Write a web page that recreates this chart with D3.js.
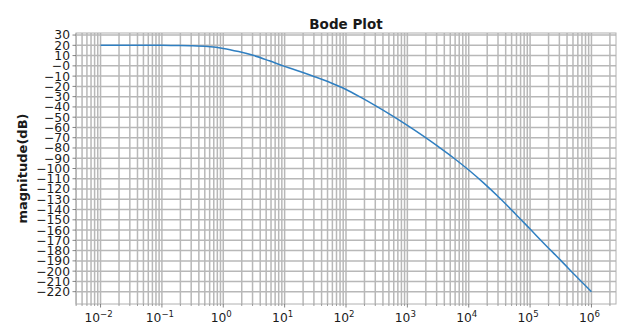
<!DOCTYPE html>
<html>
<head>
<meta charset="utf-8">
<script src="https://cdn.jsdelivr.net/npm/d3@7"></script>
<style>
  body { margin: 0; background: #fff; }
  text { font-family: "DejaVu Sans", sans-serif; }
</style>
</head>
<body>
<div id="chart"></div>
<script>
// frequency points (rad/s) and magnitude (dB)
var freqs = [0.01, 0.0316, 0.1, 0.178, 0.316, 0.562, 1, 1.78, 3.16, 5.62, 10, 17.8, 31.6, 56.2, 100,
             178, 316, 562, 1000, 1780, 3160, 5620, 10000, 17800, 31600, 56200, 100000, 178000, 316000, 562000, 1000000];
var magDb = [20, 20, 19.95, 19.85, 19.6, 18.8, 17, 13.9, 10, 4.9, -0.5, -5.5, -10.8, -16.5, -23,
             -31, -39.5, -48.5, -58, -68, -78.5, -89.5, -101.5, -114.5, -128.5, -143.5, -159, -174.5, -189.5, -205, -220];
var yTicks = d3.range(-220, 31, 10);
var xDecades = d3.range(-2, 7);

var W = 624, H = 330;
var margin = { top: 33, right: 8, bottom: 26, left: 76 };

var svg = d3.select("#chart").append("svg")
    .attr("width", W)
    .attr("height", H);

var x = d3.scaleLog()
    .domain([Math.pow(10, -2.4), Math.pow(10, 6.4)])
    .range([margin.left, W - margin.right]);
var y = d3.scaleLinear()
    .domain([-232, 32])
    .range([H - margin.bottom, margin.top]);

// minor + major x positions inside the view
var xMinor = [];
d3.range(-3, 7).forEach(function (e) {
    for (var m = 2; m <= 9; m++) {
        var v = m * Math.pow(10, e);
        if (v > x.domain()[0] && v < x.domain()[1]) xMinor.push(v);
    }
});
var xMajor = xDecades.map(function (e) { return Math.pow(10, e); });

var gridCol = "#b8b8b8";
var grid = svg.append("g");
grid.selectAll(".gx").data(xMinor.concat(xMajor)).enter().append("line")
    .attr("x1", function (d) { return x(d); })
    .attr("x2", function (d) { return x(d); })
    .attr("y1", margin.top).attr("y2", H - margin.bottom)
    .style("stroke", gridCol).style("stroke-width", 1.5);
grid.selectAll(".gy").data(yTicks).enter().append("line")
    .attr("x1", margin.left).attr("x2", W - margin.right)
    .attr("y1", function (d) { return y(d); })
    .attr("y2", function (d) { return y(d); })
    .style("stroke", gridCol).style("stroke-width", 1.5);

// frame
svg.append("rect")
    .attr("x", margin.left).attr("y", margin.top)
    .attr("width", W - margin.right - margin.left)
    .attr("height", H - margin.bottom - margin.top)
    .style("fill", "none").style("stroke", "#b0b0b0").style("stroke-width", 1);

// x axis
var xAxis = svg.append("g")
    .attr("transform", "translate(0," + (H - margin.bottom) + ")");
xAxis.selectAll(".mt").data(xMinor).enter().append("line")
    .attr("x1", function (d) { return x(d); }).attr("x2", function (d) { return x(d); })
    .attr("y1", 0).attr("y2", 2)
    .style("stroke", "#888").style("stroke-width", 0.8);
xAxis.selectAll(".Mt").data(xMajor).enter().append("line")
    .attr("x1", function (d) { return x(d); }).attr("x2", function (d) { return x(d); })
    .attr("y1", 0).attr("y2", 3.5)
    .style("stroke", "#666").style("stroke-width", 0.8);
var xl = xAxis.selectAll(".xl").data(xDecades).enter().append("text")
    .attr("x", function (d) { return x(Math.pow(10, d)) - 2; })
    .attr("y", 18)
    .attr("text-anchor", "middle")
    .style("font-size", "12.3px")
    .style("fill", "#1a1a1a");
xl.append("tspan").text("10");
xl.append("tspan")
    .attr("dy", -5)
    .style("font-size", "8.6px")
    .text(function (d) { return d < 0 ? "\u2212" + (-d) : d; });

// y axis
var yAxis = svg.append("g")
    .attr("transform", "translate(" + margin.left + ",0)");
yAxis.selectAll(".yt").data(yTicks).enter().append("line")
    .attr("x1", -3.5).attr("x2", 0)
    .attr("y1", function (d) { return y(d); }).attr("y2", function (d) { return y(d); })
    .style("stroke", "#666").style("stroke-width", 0.8);
yAxis.selectAll(".yl").data(yTicks).enter().append("text")
    .attr("x", -6)
    .attr("y", function (d) { return y(d); })
    .attr("dy", "0.36em")
    .attr("text-anchor", "end")
    .style("font-size", "12.3px")
    .style("fill", "#1a1a1a")
    .text(function (d) { return d > 0 ? d : "\u2212" + Math.abs(d); });

// curve
var line = d3.line()
    .x(function (d, i) { return x(freqs[i]); })
    .y(function (d) { return y(d); })
    .curve(d3.curveMonotoneX);
svg.append("path")
    .datum(magDb)
    .attr("d", line)
    .style("fill", "none")
    .style("stroke", "#2f7fc1")
    .style("stroke-width", 1.5);

// title and label
svg.append("text")
    .attr("x", (margin.left + W - margin.right) / 2)
    .attr("y", 29)
    .attr("text-anchor", "middle")
    .style("font-size", "13.5px")
    .style("font-weight", "bold")
    .style("fill", "#1a1a1a")
    .text("Bode Plot");
svg.append("text")
    .attr("transform", "translate(27," + ((margin.top + H - margin.bottom) / 2) + ") rotate(-90)")
    .attr("text-anchor", "middle")
    .style("font-size", "13px")
    .style("font-weight", "bold")
    .style("fill", "#1a1a1a")
    .text("magnitude(dB)");
</script>
</body>
</html>
